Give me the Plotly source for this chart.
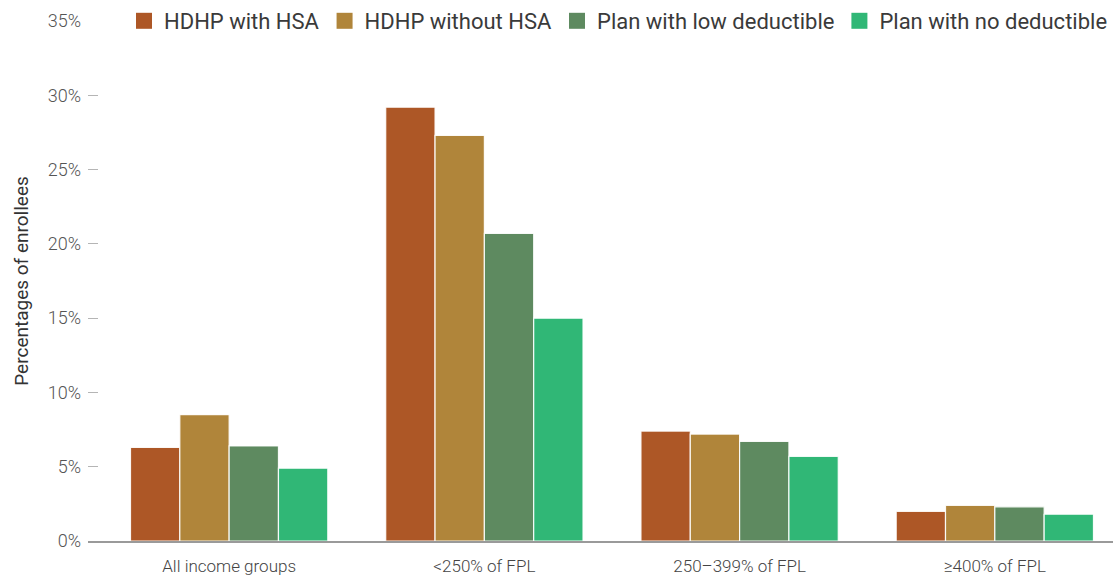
import plotly.graph_objects as go

categories = ["All income groups", "<250% of FPL", "250–399% of FPL", "≥400% of FPL"]
series_names = ["HDHP with HSA", "HDHP without HSA", "Plan with low deductible", "Plan with no deductible"]
hdhp_with_hsa = [6.3, 29.2, 7.4, 2.0]
hdhp_without_hsa = [8.5, 27.3, 7.2, 2.4]
plan_low_deductible = [6.4, 20.7, 6.7, 2.3]
plan_no_deductible = [4.9, 15.0, 5.7, 1.8]
colors = ["#AD5726", "#B0853A", "#5E8A60", "#30B776"]
y_ticks = [0, 5, 10, 15, 20, 25, 30, 35]
y_tick_labels = ["0%", "5%", "10%", "15%", "20%", "25%", "30%", "35%"]

series_values = [hdhp_with_hsa, hdhp_without_hsa, plan_low_deductible, plan_no_deductible]

fig = go.Figure()
x_idx = list(range(len(categories)))
for name, vals, col in zip(series_names, series_values, colors):
    fig.add_trace(go.Bar(
        x=x_idx, y=vals, name=name, legendgroup=name, showlegend=False,
        marker=dict(color=col, line=dict(color="rgba(255,255,255,0.9)", width=1.2)),
    ))
for name, col in zip(series_names, colors):
    fig.add_trace(go.Scatter(
        x=[None], y=[None], mode="markers", name=name, legendgroup=name,
        marker=dict(symbol="square", size=16, color=col),
    ))

fig.update_layout(
    width=1113, height=576,
    margin=dict(l=88, r=0, t=21, b=35),
    plot_bgcolor="white", paper_bgcolor="white",
    barmode="group", bargap=0.227, bargroupgap=0,
    font=dict(family="Roboto", color="#444"),
    legend=dict(
        orientation="h", x=1.0, xanchor="right", y=1.0, yanchor="middle",
        font=dict(size=22, color="#3a3a3a", weight=400),
        itemwidth=30, tracegroupgap=0, bgcolor="rgba(0,0,0,0)",
    ),
    xaxis=dict(
        tickmode="array", tickvals=x_idx, ticktext=categories,
        range=[-0.553, 3.463], showline=True, linecolor="#9a9a9a", linewidth=1.5,
        ticks="", showgrid=False, zeroline=False,
        tickfont=dict(size=17, color="#444", weight=300),
        ticklabelstandoff=9,
    ),
    yaxis=dict(
        range=[0, 35], tickmode="array", tickvals=y_ticks, ticktext=y_tick_labels,
        ticks="inside", ticklen=10, tickcolor="#b5b5b5", tickwidth=1,
        showline=False, showgrid=False, zeroline=False,
        tickfont=dict(size=18, color="#555", weight=300),
        ticklabelstandoff=6,
        title=dict(text="Percentages of enrollees", font=dict(size=19, color="#333", weight=400), standoff=14),
    ),
)

fig.write_html("out.html")
